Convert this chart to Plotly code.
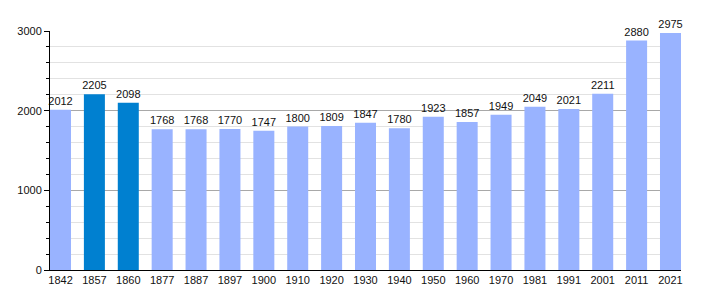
import plotly.graph_objects as go

years = ["1842", "1857", "1860", "1877", "1887", "1897", "1900", "1910", "1920", "1930",
         "1940", "1950", "1960", "1970", "1981", "1991", "2001", "2011", "2021"]
population = [2012, 2205, 2098, 1768, 1768, 1770, 1747, 1800, 1809, 1847,
              1780, 1923, 1857, 1949, 2049, 2021, 2211, 2880, 2975]
highlight = ["1857", "1860"]

light = "#99b3ff"
dark = "#0080d0"
colors = [dark if y in highlight else light for y in years]
xpos = list(range(len(years)))

fig = go.Figure(go.Bar(
    x=xpos, y=population, width=0.62,
    marker=dict(color=colors, line=dict(width=0)),
    text=[str(v) for v in population], textposition="outside",
    constraintext="none",
    textfont=dict(size=11, color="#111", family="Liberation Sans, Arial, sans-serif"),
    cliponaxis=False,
))

fig.update_layout(
    width=710, height=300,
    margin=dict(l=50, r=29, t=31, b=30),
    plot_bgcolor="white", paper_bgcolor="white",
    font=dict(family="Liberation Sans, Arial, sans-serif", size=11, color="#111"),
    showlegend=False,
)
fig.update_xaxes(
    range=[-0.31, len(years) - 1 + 0.31],
    tickmode="array", tickvals=xpos, ticktext=years,
    showgrid=False, showline=True, linecolor="black", linewidth=1,
    ticks="", zeroline=False, fixedrange=True,
)
fig.update_yaxes(
    range=[0, 3000], tickvals=[0, 1000, 2000, 3000],
    showgrid=True, gridcolor="#a8a8a8", gridwidth=1,
    showline=True, linecolor="black", linewidth=1,
    ticks="outside", ticklen=5, tickcolor="black",
    minor=dict(dtick=200, showgrid=True, gridcolor="#e2e2e2", ticks="outside", ticklen=3, tickcolor="black"),
    zeroline=False, fixedrange=True,
)

fig.write_html("out.html")
